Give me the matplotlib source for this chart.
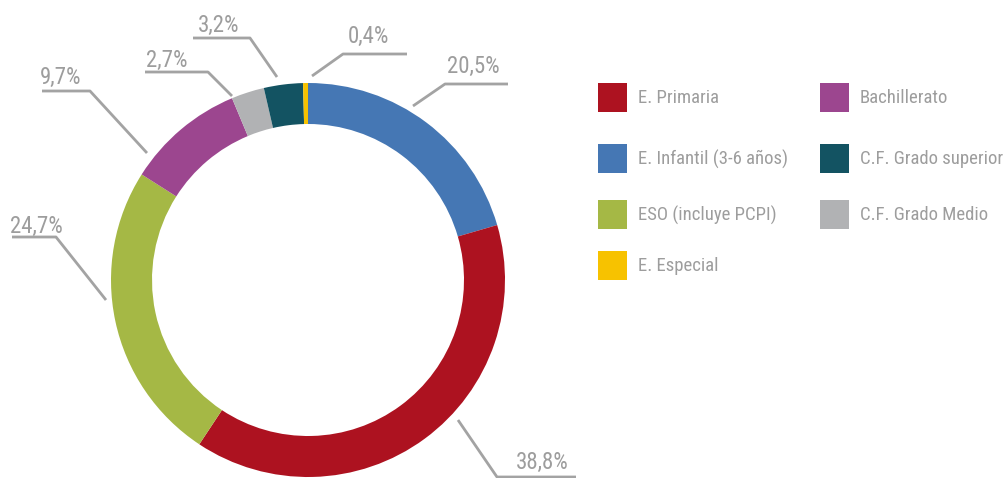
import matplotlib.pyplot as plt
from matplotlib.patches import Rectangle

W, H = 1008, 478

# datos (porcentaje del alumnado por enseñanza)
niveles = ['E. Infantil (3-6 años)', 'E. Primaria', 'ESO (incluye PCPI)', 'Bachillerato',
           'C.F. Grado Medio', 'C.F. Grado superior', 'E. Especial']
valores = [20.5, 38.8, 24.7, 9.7, 2.7, 3.2, 0.4]
colores = ['#4577b4', '#ad1220', '#a5b845', '#9c468f', '#b1b2b4', '#135362', '#f7c200']

# orden de la leyenda (dos columnas)
leyenda_col1 = ['E. Primaria', 'E. Infantil (3-6 años)', 'ESO (incluye PCPI)', 'E. Especial']
leyenda_col2 = ['Bachillerato', 'C.F. Grado superior', 'C.F. Grado Medio']

# posiciones de las etiquetas, en pixeles (y hacia abajo): inicio, codo, fin de la guia
guias = {
    'E. Infantil (3-6 años)': [(413, 106), (445, 84), (508, 84)],
    'E. Primaria': [(458, 420), (497, 477), (576, 477)],
    'ESO (incluye PCPI)': [(106, 300), (56, 237), (12, 237)],
    'Bachillerato': [(147, 153), (90, 91), (42, 91)],
    'C.F. Grado Medio': [(232, 96), (208, 72), (145, 72)],
    'C.F. Grado superior': [(277, 77), (250, 38), (193, 38)],
    'E. Especial': [(312, 76), (343, 54), (407, 54)],
}
# texto de la etiqueta: x izquierda, linea base
textos = {
    'E. Infantil (3-6 años)': (447, 73),
    'E. Primaria': (516, 469),
    'ESO (incluye PCPI)': (10, 233),
    'Bachillerato': (40, 84),
    'C.F. Grado Medio': (146, 67),
    'C.F. Grado superior': (198, 32),
    'E. Especial': (348, 43),
}

gris = '#9d9d9d'
fuente = ['Roboto Condensed', 'Archivo Narrow', 'DejaVu Sans']

fig = plt.figure(figsize=(W / 100, H / 100), dpi=100)
ax = fig.add_axes([0, 0, 1, 1])
ax.axis('off')

cx, cy, r = 308, H - 280, 197
ax.pie(valores, colors=colores, startangle=90, counterclock=False,
       center=(cx, cy), radius=r, wedgeprops=dict(width=41, linewidth=0))
ax.set_xlim(0, W)
ax.set_ylim(0, H)
ax.set_aspect('equal')

for nombre, v in zip(niveles, valores):
    pts = guias[nombre]
    xs = [p[0] for p in pts]
    ys = [H - p[1] for p in pts]
    ax.plot(xs, ys, color='#a3a3a3', lw=2, solid_capstyle='butt')
    tx, ty = textos[nombre]
    ax.text(tx, H - ty, f'{v:.1f}%'.replace('.', ','), color=gris, fontsize=16.5,
            family=fuente, ha='left', va='baseline')

col_color = dict(zip(niveles, colores))
filas1 = [83, 144, 200, 251]
filas2 = [83, 144, 200]
for nombres, filas, x0 in [(leyenda_col1, filas1, 598), (leyenda_col2, filas2, 820)]:
    for nombre, y0 in zip(nombres, filas):
        ax.add_patch(Rectangle((x0, H - y0 - 29), 29, 29, color=col_color[nombre], lw=0))
        ax.text(x0 + 40, H - y0 - 15, nombre, color=gris, fontsize=13.5, family=fuente,
                ha='left', va='center')

fig.savefig('out.png', dpi=100)
